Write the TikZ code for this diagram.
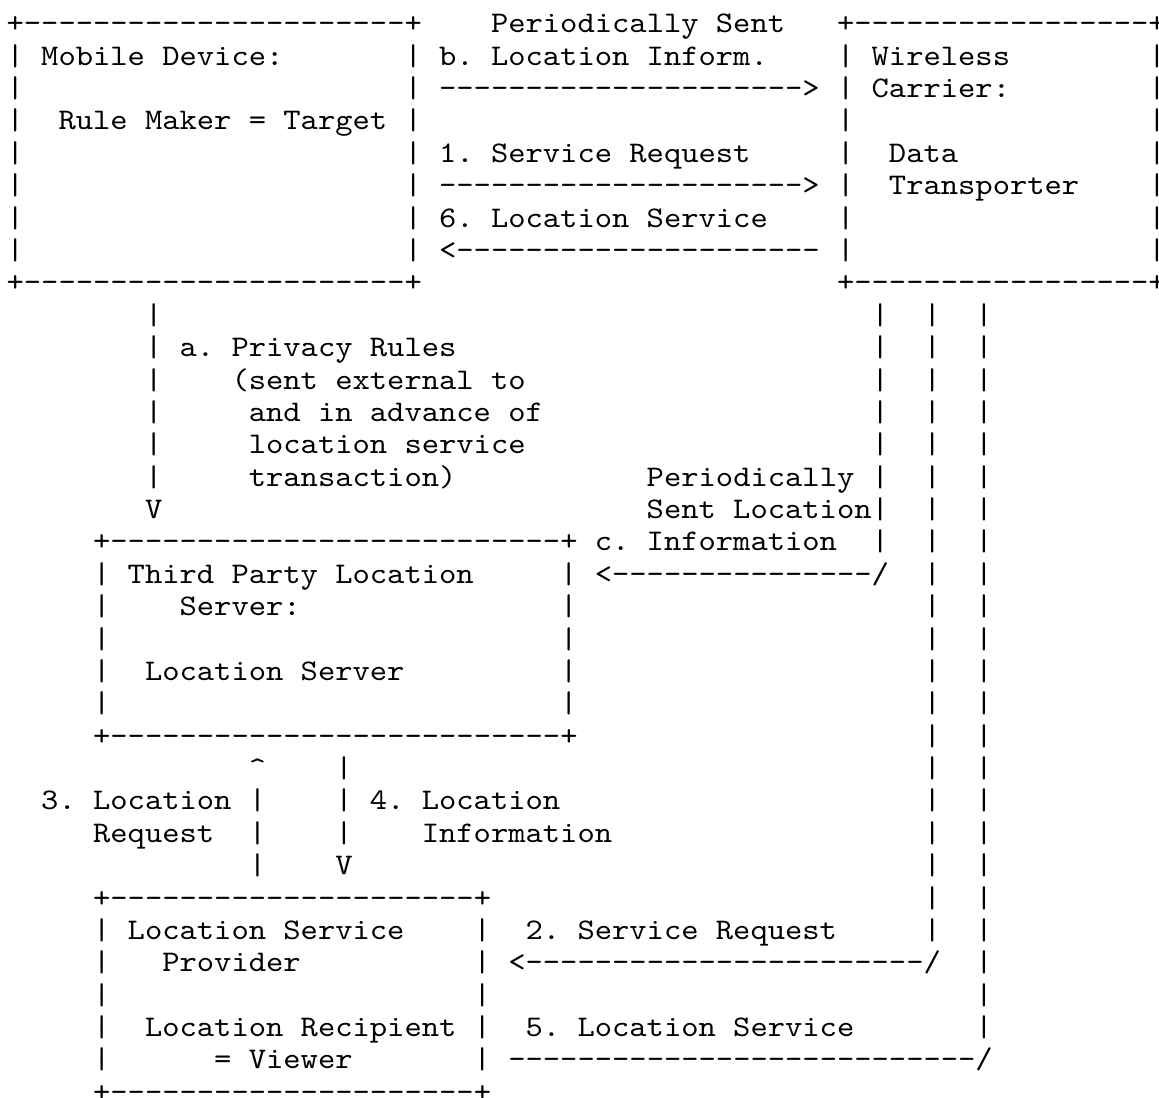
\documentclass[tikz,border=0pt]{standalone}
\usepackage{fontspec}
\setmonofont[FakeStretch=1.1]{Latin Modern Mono}
\newcount\fragno
\tikzset{asc/.style={anchor=base west, inner sep=0pt, outer sep=0pt,
  font=\fontsize{10.39pt}{11pt}\selectfont\ttfamily, text=black}}
\newcommand\dsh[1]{\foreach\dshi in {1,...,#1}{-}}
\newcommand\R[3]{\global\advance\fragno by 1
  \node[asc, name=f\the\fragno] at ({2.3pt+#2*6pt},{-11.38pt-#1*11.23pt}) {#3};}
\begin{document}
\begin{tikzpicture}
\useasboundingbox[fill=white] (0,0) rectangle (401.96pt,-380.46pt);
% top boxes
\R{0}{0}{+\dsh{22}+}
\R{0}{28}{Periodically Sent}
\R{0}{48}{+\dsh{17}+}
\foreach \r in {1,...,7}{\R{\r}{0}{|}\R{\r}{23}{|}\R{\r}{48}{|}\R{\r}{66}{|}}
\R{1}{2}{Mobile Device:}
\R{1}{25}{b. Location Inform.}
\R{1}{50}{Wireless}
\R{2}{25}{\dsh{21}>}
\R{2}{50}{Carrier:}
\R{3}{3}{Rule Maker = Target}
\R{4}{25}{1. Service Request}
\R{4}{51}{Data}
\R{5}{25}{\dsh{21}>}
\R{5}{51}{Transporter}
\R{6}{25}{6. Location Service}
\R{7}{25}{<\dsh{21}}
\R{8}{0}{+\dsh{22}+}
\R{8}{48}{+\dsh{17}+}
% privacy rules
\foreach \r in {9,...,14}{\R{\r}{8}{|}}
\R{10}{10}{a. Privacy Rules}
\R{11}{13}{(sent external to}
\R{12}{14}{and in advance of}
\R{13}{14}{location service}
\R{14}{14}{transaction)}
\R{15}{8}{V}
% right verticals
\foreach \r in {9,...,16}{\R{\r}{50}{|}}
\foreach \r in {9,...,28}{\R{\r}{53}{|}}
\foreach \r in {9,...,31}{\R{\r}{56}{|}}
\R{14}{37}{Periodically}
\R{15}{37}{Sent Location}
\R{16}{34}{c. Information}
\R{17}{34}{<\dsh{15}/}
% third party box
\R{16}{5}{+\dsh{26}+}
\foreach \r in {17,...,21}{\R{\r}{5}{|}\R{\r}{32}{|}}
\R{17}{7}{Third Party Location}
\R{18}{10}{Server:}
\R{20}{8}{Location Server}
\R{22}{5}{+\dsh{26}+}
% 3 / 4
\R{23}{14}{\textasciicircum}
\foreach \r in {23,24,25}{\R{\r}{19}{|}}
\foreach \r in {24,25,26}{\R{\r}{14}{|}}
\R{26}{19}{V}
\R{24}{2}{3. Location}
\R{25}{5}{Request}
\R{24}{21}{4. Location}
\R{25}{24}{Information}
% provider box
\R{27}{5}{+\dsh{21}+}
\foreach \r in {28,...,32}{\R{\r}{5}{|}\R{\r}{27}{|}}
\R{28}{7}{Location Service}
\R{29}{9}{Provider}
\R{31}{8}{Location Recipient}
\R{32}{12}{= Viewer}
\R{33}{5}{+\dsh{21}+}
\R{28}{30}{2. Service Request}
\R{29}{29}{<\dsh{23}/}
\R{31}{30}{5. Location Service}
\R{32}{29}{\dsh{27}/}
\end{tikzpicture}
\end{document}
